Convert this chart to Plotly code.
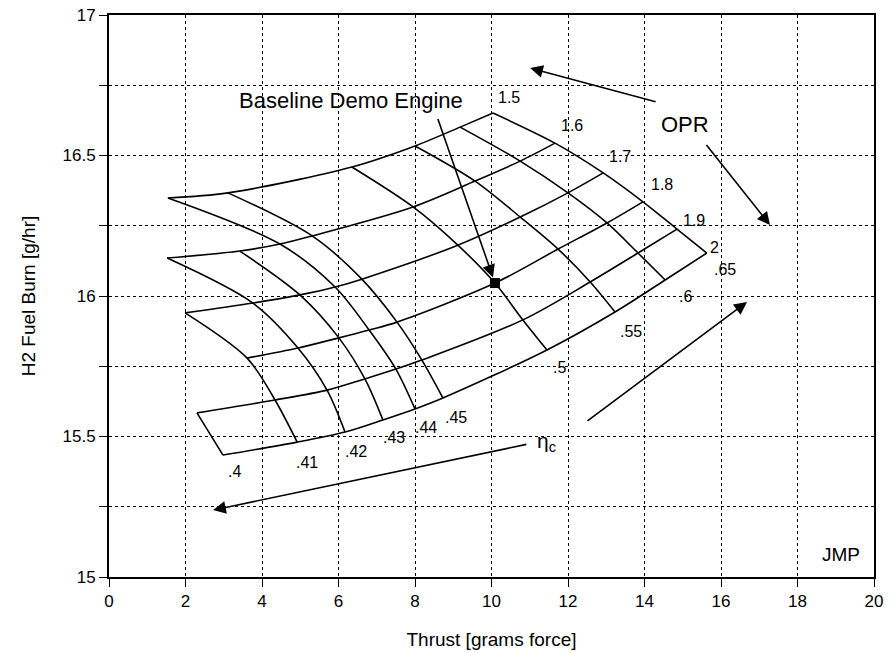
import plotly.graph_objects as go

# ---------------- data ----------------
opr = [1.5, 1.6, 1.7, 1.8, 1.9, 2.0]
eta_c = [0.40, 0.41, 0.42, 0.43, 0.44, 0.45, 0.50, 0.55, 0.60, 0.65]
eta_labels = [".4", ".41", ".42", ".43", ".44", ".45", ".5", ".55", ".6", ".65"]
opr_labels = ["1.5", "1.6", "1.7", "1.8", "1.9", "2"]

# thrust [grams force], rows = OPR, columns = eta_c (None = not computed)
thrust = [
    [None, None, None, None, 1.54, 3.11, 6.35, 8.00, 9.18, 10.04],
    [None, None, 1.52, 3.42, 4.47, 5.31, 7.95, 9.57, 10.75, 11.66],
    [None, 1.99, 3.76, 4.99, 5.91, 6.61, 9.12, 10.75, 12.00, 12.92],
    [None, 3.61, 4.94, 6.01, 6.80, 7.53, 10.09, 11.74, 13.02, 13.96],
    [2.30, 4.34, 5.70, 6.69, 7.50, 8.18, 10.82, 12.58, 13.83, 14.85],
    [2.98, 4.92, 6.17, 7.16, 8.00, 8.73, 11.45, 13.23, 14.54, 15.63],
]
# H2 fuel burn [g/hr]
fuel = [
    [None, None, None, None, 16.349, 16.367, 16.459, 16.534, 16.601, 16.651],
    [None, None, 16.135, 16.160, 16.185, 16.214, 16.317, 16.409, 16.480, 16.544],
    [None, 15.940, 15.975, 16.004, 16.032, 16.060, 16.181, 16.281, 16.367, 16.438],
    [None, 15.779, 15.815, 15.851, 15.879, 15.907, 16.046, 16.167, 16.260, 16.335],
    [15.584, 15.630, 15.665, 15.705, 15.740, 15.772, 15.915, 16.050, 16.153, 16.238],
    [15.434, 15.480, 15.516, 15.559, 15.598, 15.637, 15.808, 15.943, 16.057, 16.153],
]
baseline_opr = 1.8
baseline_eta = 0.50

# ---------------- figure ----------------
FONT = "Liberation Sans, Arial, sans-serif"
fig = go.Figure()
line_style = dict(color="black", width=1.6, shape="spline", smoothing=0.9)

# lines of constant OPR
for i, o in enumerate(opr):
    xs = [thrust[i][j] for j in range(len(eta_c)) if thrust[i][j] is not None]
    ys = [fuel[i][j] for j in range(len(eta_c)) if fuel[i][j] is not None]
    fig.add_trace(go.Scatter(x=xs, y=ys, mode="lines", line=line_style,
                             hoverinfo="skip", showlegend=False))

# lines of constant eta_c
for j, e in enumerate(eta_c):
    xs = [thrust[i][j] for i in range(len(opr)) if thrust[i][j] is not None]
    ys = [fuel[i][j] for i in range(len(opr)) if fuel[i][j] is not None]
    fig.add_trace(go.Scatter(x=xs, y=ys, mode="lines", line=line_style,
                             hoverinfo="skip", showlegend=False))

# baseline marker
bi, bj = opr.index(baseline_opr), eta_c.index(baseline_eta)
fig.add_trace(go.Scatter(x=[thrust[bi][bj]], y=[fuel[bi][bj]], mode="markers",
                         marker=dict(symbol="square", size=10, color="black"),
                         hoverinfo="skip", showlegend=False))

annotations = []
lab_font = dict(family=FONT, size=16, color="black")

# OPR labels at the eta_c = 0.65 end of each OPR line
opr_shift = [(16, 16), (17, 18), (17, 16), (19, 17), (17, 9), (8, 6)]
for i, lab in enumerate(opr_labels):
    annotations.append(dict(x=thrust[i][-1], y=fuel[i][-1], text=lab, showarrow=False,
                            xshift=opr_shift[i][0], yshift=opr_shift[i][1], font=lab_font))

# eta_c labels at the OPR = 2.0 end of each eta_c line
eta_shift = [(12, -16), (10, -20), (11, -19), (11, -18), (11, -19), (13, -19),
             (13, -18), (16, -19), (20, -17), (18, -16)]
for j, lab in enumerate(eta_labels):
    annotations.append(dict(x=thrust[-1][j], y=fuel[-1][j], text=lab, showarrow=False,
                            xshift=eta_shift[j][0], yshift=eta_shift[j][1], font=lab_font))

big_font = dict(family=FONT, size=22, color="black")
arrow = dict(showarrow=True, arrowhead=2, arrowsize=1.6, arrowwidth=1.6,
             arrowcolor="black", axref="x", ayref="y", text=" ",
             font=dict(size=1))

# Baseline Demo Engine
annotations.append(dict(x=6.33, y=16.694, text="Baseline Demo Engine", showarrow=False,
                        font=big_font))
annotations.append(dict(arrow, x=thrust[bi][bj], y=fuel[bi][bj], ax=8.58, ay=16.637,
                        standoff=6))
# OPR
annotations.append(dict(x=15.05, y=16.61, text="OPR", showarrow=False,
                        font=dict(family=FONT, size=22, color="black")))
annotations.append(dict(arrow, x=11.01, y=16.811, ax=14.33, ay=16.690))
annotations.append(dict(arrow, x=17.28, y=16.253, ax=15.58, ay=16.544))
# eta_c
annotations.append(dict(x=11.45, y=15.48, text="η<sub>c</sub>", showarrow=False,
                        font=dict(family=FONT, size=21, color="black")))
annotations.append(dict(arrow, x=2.72, y=15.238, ax=10.95, ay=15.473))
annotations.append(dict(arrow, x=16.68, y=15.979, ax=12.47, ay=15.552))
# JMP
annotations.append(dict(x=19.15, y=15.08, text="JMP", showarrow=False,
                        font=dict(family=FONT, size=19, color="black")))

axis_common = dict(showline=True, linecolor="black", linewidth=1.8, mirror=True,
                   ticks="outside", ticklen=8, tickcolor="black", tickwidth=1.2,
                   showgrid=True, gridcolor="black", griddash="dot", gridwidth=1,
                   zeroline=False, automargin=False,
                   tickfont=dict(family=FONT, size=17, color="black"))

fig.update_layout(
    width=889, height=653,
    margin=dict(l=109, r=15, t=15, b=76),
    paper_bgcolor="white", plot_bgcolor="white",
    annotations=annotations,
    xaxis=dict(axis_common, range=[0, 20], dtick=2, tick0=0,
               title=dict(text="Thrust [grams force]",
                          font=dict(family=FONT, size=19, color="black"), standoff=22)),
    yaxis=dict(axis_common, range=[15, 17], dtick=0.5, tick0=15,
               minor=dict(dtick=0.25, showgrid=True, gridcolor="black", griddash="dot",
                          gridwidth=1, ticks="outside", ticklen=8, tickcolor="black"),
               title=dict(text="H2 Fuel Burn [g/hr]",
                          font=dict(family=FONT, size=19, color="black"), standoff=22)),
)

fig.write_html("out.html")
